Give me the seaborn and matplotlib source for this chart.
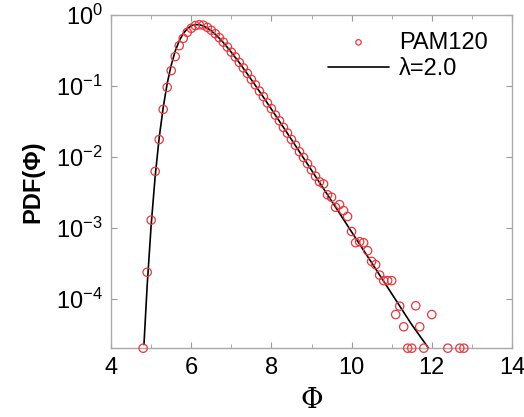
import numpy as np
import pandas as pd
import matplotlib
matplotlib.use("Agg")
from matplotlib import pyplot as plt
from matplotlib.ticker import MultipleLocator, LogLocator, NullLocator
import seaborn as sns

# histogram points (PAM120)
phi_pts = [4.8, 4.9, 5.0, 5.1, 5.2, 5.3, 5.4, 5.5, 5.6, 5.7, 5.8, 5.9,
           6.0, 6.1, 6.2, 6.3, 6.4, 6.5, 6.6, 6.7, 6.8, 6.9,
           7.0, 7.1, 7.2, 7.3, 7.4, 7.5, 7.6, 7.7, 7.8, 7.9,
           8.0, 8.1, 8.2, 8.3, 8.4, 8.5, 8.6, 8.7, 8.8, 8.9,
           9.0, 9.1, 9.2, 9.3, 9.4, 9.5, 9.6, 9.7, 9.8, 9.9,
           10.0, 10.1, 10.2, 10.3, 10.4, 10.5, 10.6, 10.7, 10.8, 10.9,
           11.0, 11.1, 11.2, 11.3, 11.4, 11.5, 11.6, 11.7, 11.8,
           12.0, 12.4, 12.7, 12.8]
pdf_pts = [2.05e-5, 2.4e-4, 1.3e-3, 6.3e-3, 0.0177, 0.047, 0.096, 0.165, 0.26, 0.37, 0.47, 0.57,
           0.65, 0.71, 0.73, 0.72, 0.67, 0.61, 0.545, 0.48, 0.415, 0.355,
           0.30, 0.257, 0.215, 0.18, 0.151, 0.124, 0.104, 0.085, 0.071, 0.058,
           0.048, 0.039, 0.0325, 0.0262, 0.0218, 0.0177, 0.0147, 0.0119, 0.0099, 0.0081,
           0.0066, 0.0054, 0.0045, 0.0042, 0.00295, 0.00273, 0.00197, 0.00215, 0.00177, 0.00146,
           9.0e-4, 6.25e-4, 6.45e-4, 6.25e-4, 4.83e-4, 3.41e-4, 3.07e-4, 2.19e-4, 1.83e-4, 1.83e-4,
           1.83e-4, 6.1e-5, 8.0e-5, 4.1e-5, 2.05e-5, 2.05e-5, 8.1e-5, 4.1e-5, 2.05e-5,
           6.1e-5, 2.05e-5, 2.05e-5, 2.05e-5]

# fitted curve (lambda = 2.0)
phi_fit = [4.82, 4.9, 5.0, 5.1, 5.2, 5.3, 5.4, 5.5, 5.6, 5.7, 5.8, 5.9,
           6.0, 6.1, 6.2, 6.3, 6.4, 6.5, 6.6, 6.7, 6.8, 6.9, 7.0,
           7.2, 7.4, 7.6, 7.8, 8.0, 8.5, 9.0, 9.5, 10.0, 10.5, 11.0, 11.5, 11.92]
pdf_fit = [2.3e-5, 1.56e-4, 1.11e-3, 5.4e-3, 0.0188, 0.050, 0.109, 0.197, 0.311, 0.433, 0.548, 0.642,
           0.705, 0.733, 0.730, 0.703, 0.656, 0.598, 0.535, 0.471, 0.409, 0.351, 0.299,
           0.213, 0.148, 0.102, 0.0698, 0.0473, 0.0177, 0.00654, 0.00242, 8.88e-4, 3.27e-4, 1.2e-4, 4.4e-5, 2.05e-5]

sns.set_style("ticks")
plt.rcParams['font.family'] = ['Liberation Sans', 'DejaVu Sans']
plt.rcParams['mathtext.fontset'] = 'custom'
plt.rcParams['mathtext.rm'] = 'Liberation Sans'
plt.rcParams['mathtext.it'] = 'Liberation Sans:italic'
plt.rcParams['text.color'] = 'black'
plt.rcParams['axes.labelcolor'] = 'black'

fig = plt.figure(figsize=(5.24, 4.17), dpi=100)
ax = fig.add_axes([0.212, 0.165, 0.765, 0.799])

pts = pd.DataFrame({"phi": phi_pts, "pdf": pdf_pts})
fit = pd.DataFrame({"phi": phi_fit, "pdf": pdf_fit})

sns.lineplot(data=fit, x="phi", y="pdf", color="black", linewidth=1.2,
             label="\u03bb=2.0", ax=ax, zorder=2)
sns.scatterplot(data=pts, x="phi", y="pdf", marker="o", s=36,
                facecolor="none", edgecolor="#e8383d", linewidth=0.9,
                label="PAM120", ax=ax, zorder=3, clip_on=False)

ax.set_yscale("log")
ax.set_xlim(4, 14)
ax.set_ylim(2.05e-5, 1.0)
ax.xaxis.set_major_locator(MultipleLocator(2))
ax.xaxis.set_minor_locator(MultipleLocator(1))
ax.yaxis.set_major_locator(LogLocator(base=10, numticks=10))
ax.yaxis.set_minor_locator(NullLocator())

ax.tick_params(which="both", direction="in", top=True, right=True,
               color="#999999", labelcolor="black", labelsize=17, pad=6)
ax.tick_params(which="major", length=4)
ax.tick_params(which="minor", length=3)
for s in ax.spines.values():
    s.set_color("#aaaaaa")
    s.set_linewidth(1.0)

ax.set_xlabel("\u03a6", fontsize=20, family="DejaVu Serif", labelpad=6)
ax.set_ylabel("PDF(\u03a6)", fontsize=17, fontweight="bold", labelpad=8)

h, l = ax.get_legend_handles_labels()
order = [l.index("PAM120"), l.index("\u03bb=2.0")]
ax.legend([h[i] for i in order], [l[i] for i in order], loc="upper right",
          frameon=False, fontsize=17, handlelength=2.6, handletextpad=0.4,
          labelspacing=0.2, markerscale=0.65, borderaxespad=0.3,
          bbox_to_anchor=(0.98, 1.0))

fig.savefig("out.png", dpi=100)
